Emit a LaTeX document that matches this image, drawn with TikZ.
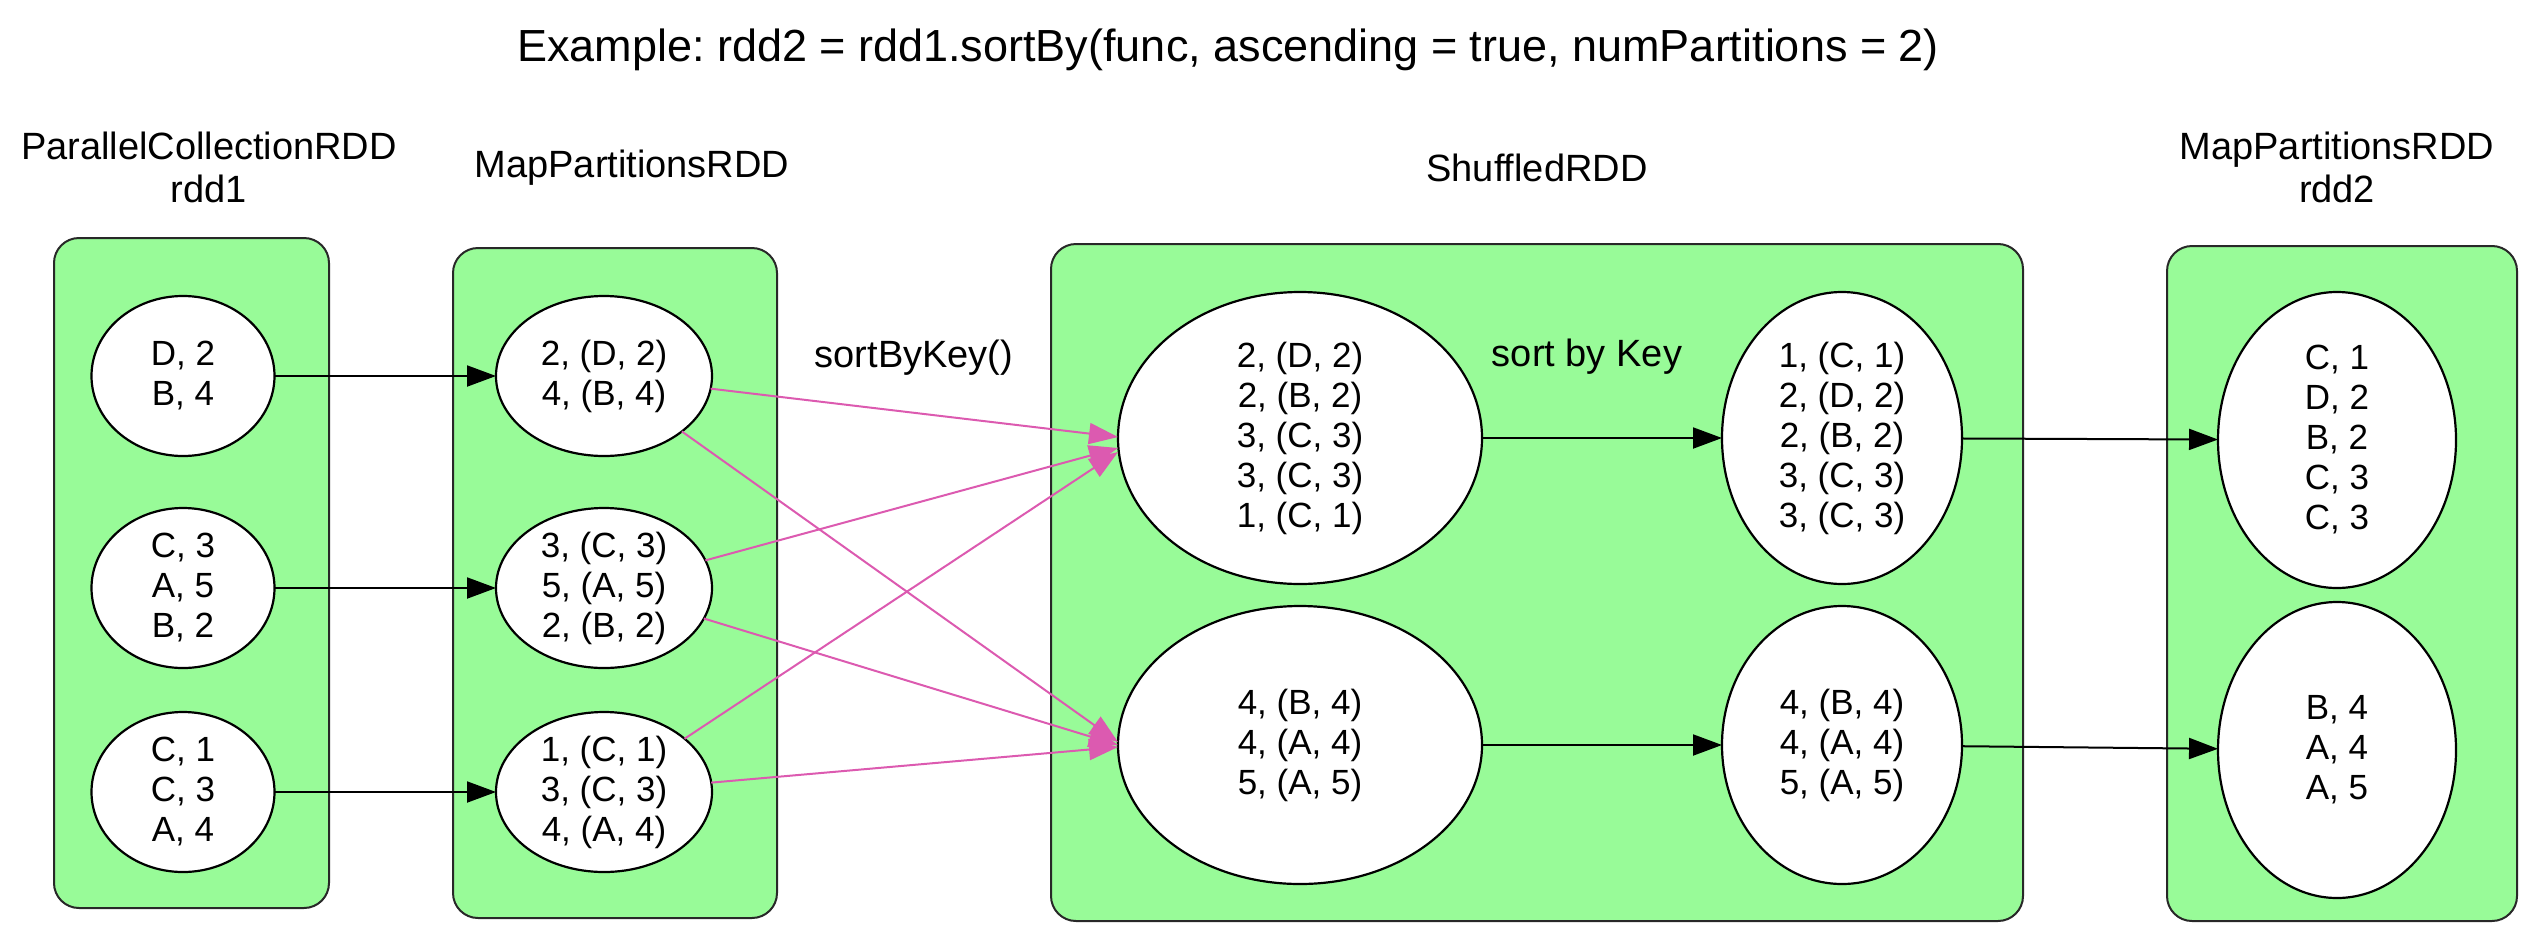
\documentclass[tikz,border=0pt]{standalone}
\usepackage{fontspec}
\setmainfont{Liberation Sans}
\usetikzlibrary{shapes.geometric,arrows.meta}
\definecolor{boxgreen}{RGB}{152,251,152}
\definecolor{edgepink}{RGB}{220,90,176}
\definecolor{boxline}{RGB}{40,40,40}
\frenchspacing
\begin{document}
\begin{tikzpicture}[x=1pt,y=-1pt,
  cluster/.style={draw=boxline,line width=2pt,fill=boxgreen,rounded corners=25pt},
  part/.style={ellipse,draw=black,line width=2.2pt,fill=white,inner sep=0pt,outer sep=0pt,align=center,font=\fontsize{35}{40}\selectfont},
  lbl/.style={font=\fontsize{38}{43}\selectfont,align=center,inner sep=0pt},
  flow/.style={line width=2pt,-{Triangle[length=29pt,width=21pt]}},
  shuf/.style={flow,draw=edgepink}]
\useasboundingbox (0,0) rectangle (2532,924);
% clusters
\draw[cluster] (54,238) rectangle (329,908);
\draw[cluster] (453,248) rectangle (777,918);
\draw[cluster] (1051,244) rectangle (2023,921);
\draw[cluster] (2167,246) rectangle (2517,921);
% labels
\node[font=\fontsize{45}{50}\selectfont,inner sep=0pt] (title) at (1228,50) {Example: rdd2 = rdd1.sortBy(func, ascending = true, numPartitions = 2)};
\node[lbl] (l1) at (209,167) {ParallelCollectionRDD\\rdd1};
\node[lbl] (l2) at (632,168) {MapPartitionsRDD};
\node[lbl] (l3) at (1537,168) {ShuffledRDD};
\node[lbl] (l4) at (2337,167) {MapPartitionsRDD\\rdd2};
\node[lbl] (e1) at (914,358) {sortByKey()};
\node[lbl] (e2) at (1587,357) {sort by Key};
% rdd1
\node[part,minimum width=183pt,minimum height=160pt] (r1) at (183,376) {D, 2\\B, 4};
\node[part,minimum width=183pt,minimum height=160pt] (r2) at (183,588) {C, 3\\A, 5\\B, 2};
\node[part,minimum width=183pt,minimum height=160pt] (r3) at (183,792) {C, 1\\C, 3\\A, 4};
% map
\node[part,minimum width=216pt,minimum height=160pt] (m1) at (604,376) {2, (D, 2)\\4, (B, 4)};
\node[part,minimum width=216pt,minimum height=160pt] (m2) at (604,588) {3, (C, 3)\\5, (A, 5)\\2, (B, 2)};
\node[part,minimum width=216pt,minimum height=160pt] (m3) at (604,792) {1, (C, 1)\\3, (C, 3)\\4, (A, 4)};
% shuffled
\node[part,minimum width=364pt,minimum height=292pt] (s1) at (1300,438) {2, (D, 2)\\2, (B, 2)\\3, (C, 3)\\3, (C, 3)\\1, (C, 1)};
\node[part,minimum width=364pt,minimum height=278pt] (s2) at (1300,745) {4, (B, 4)\\4, (A, 4)\\5, (A, 5)};
\node[part,minimum width=240pt,minimum height=292pt] (t1) at (1842,438) {1, (C, 1)\\2, (D, 2)\\2, (B, 2)\\3, (C, 3)\\3, (C, 3)};
\node[part,minimum width=240pt,minimum height=278pt] (t2) at (1842,745) {4, (B, 4)\\4, (A, 4)\\5, (A, 5)};
% rdd2
\node[part,minimum width=238pt,minimum height=296pt] (d1) at (2337,440) {C, 1\\D, 2\\B, 2\\C, 3\\C, 3};
\node[part,minimum width=238pt,minimum height=296pt] (d2) at (2337,750) {B, 4\\A, 4\\A, 5};
% black edges
\draw[flow] (r1) -- (m1);
\draw[flow] (r2) -- (m2);
\draw[flow] (r3) -- (m3);
\draw[flow] (s1) -- (t1);
\draw[flow] (s2) -- (t2);
\draw[flow] (t1) -- (d1);
\draw[flow] (t2) -- (d2);
% shuffle edges
\draw[shuf] (m1) -- ([yshift=1pt]s1.west);
\draw[shuf] (m2) -- ([yshift=-10pt]s1.west);
\draw[shuf] (m3) -- ([yshift=-14pt]s1.west);
\draw[shuf] (m1) -- ([yshift=3pt]s2.west);
\draw[shuf] (m2) -- ([yshift=0pt]s2.west);
\draw[shuf] (m3) -- ([yshift=-2pt]s2.west);
\end{tikzpicture}
\end{document}
